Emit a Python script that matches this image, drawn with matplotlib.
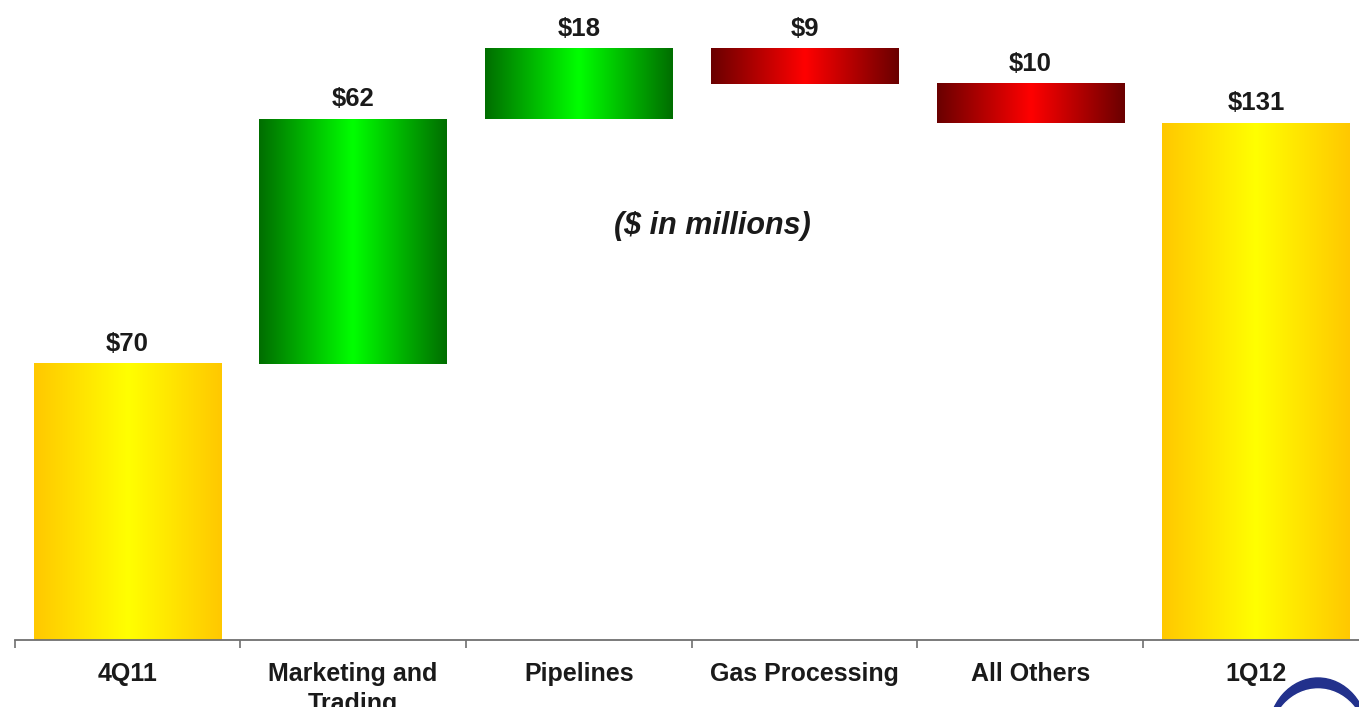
import numpy as np
import matplotlib
matplotlib.use("Agg")
import matplotlib.pyplot as plt
from matplotlib.colors import LinearSegmentedColormap
from matplotlib.patches import Ellipse

categories = ["4Q11", "Marketing and\nTrading", "Pipelines", "Gas Processing", "All Others", "1Q12"]
values = [70, 62, 18, -9, -10, 131]
kinds = ["total", "delta", "delta", "delta", "delta", "total"]
value_labels = ["$70", "$62", "$18", "$9", "$10", "$131"]
note = "($ in millions)"

plt.rcParams['font.family'] = ['Liberation Sans', 'DejaVu Sans']

W, H = 1359, 707
fig = plt.figure(figsize=(W / 100, H / 100), dpi=100)
left_px, axis_px = 14.6, 640
step = 225.7
ax = fig.add_axes([left_px / W, (H - axis_px) / H, 6 * step / W, axis_px / H])

# compute waterfall bottoms/heights
bottoms, heights = [], []
running = 0
for v, k in zip(values, kinds):
    if k == "total":
        bottoms.append(0)
        heights.append(v)
        running = v
    else:
        if v >= 0:
            bottoms.append(running)
            heights.append(v)
        else:
            bottoms.append(running + v)
            heights.append(-v)
        running += v

x = np.arange(len(categories))
bars = ax.bar(x, heights, bottom=bottoms, width=0.83, color="none", edgecolor="none")

cmaps = {
    "yellow": LinearSegmentedColormap.from_list("y", ["#FFC800", "#FFFF00", "#FFC800"]),
    "green": LinearSegmentedColormap.from_list("g", ["#006E00", "#00FF00", "#006E00"]),
    "red": LinearSegmentedColormap.from_list("r", ["#6A0000", "#FF0000", "#6A0000"]),
}
grad = np.linspace(0, 1, 256).reshape(1, -1)
for i, (b, v, k) in enumerate(zip(bars, values, kinds)):
    key = "yellow" if k == "total" else ("green" if v >= 0 else "red")
    x0, y0 = b.get_x(), b.get_y()
    w, h = b.get_width(), b.get_height()
    ax.imshow(grad, cmap=cmaps[key], aspect="auto", extent=[x0, x0 + w, y0, y0 + h],
              interpolation="bicubic", zorder=2)
    ax.annotate(value_labels[i], (x0 + w / 2, y0 + h), xytext=(0, 8), textcoords="offset pixels",
                ha="center", va="bottom", fontsize=18.5, fontweight="bold", color="#1a1a1a")

ax.set_xlim(-0.5, 5.5)
ax.set_ylim(0, 162.3)
for s in ["left", "top", "right"]:
    ax.spines[s].set_visible(False)
ax.spines["bottom"].set_color("#707070")
ax.spines["bottom"].set_linewidth(1.3)
ax.set_yticks([])
ax.set_xticks(x)
ax.set_xticklabels(categories, fontsize=18, fontweight="bold", color="#1a1a1a", linespacing=1.3)
ax.tick_params(axis="x", which="major", length=0, pad=16)
ax.set_xticks(np.arange(-0.5, 6, 1), minor=True)
ax.tick_params(axis="x", which="minor", length=6, color="#707070", width=1.2)

ax.text(2.59, 105, note, ha="center", va="center", fontsize=22, fontweight="bold",
        style="italic", color="#1a1a1a")

# logo fragment bottom-right
ov = fig.add_axes([0, 0, 1, 1], zorder=5)
ov.set_xlim(0, W)
ov.set_ylim(H, 0)
ov.axis("off")
ov.patch.set_visible(False)
ov.add_patch(Ellipse((1318, 735), 100, 114, color="#22318C"))
ov.add_patch(Ellipse((1318, 742), 96, 106, color="white"))

fig.savefig("out.png", dpi=100)
